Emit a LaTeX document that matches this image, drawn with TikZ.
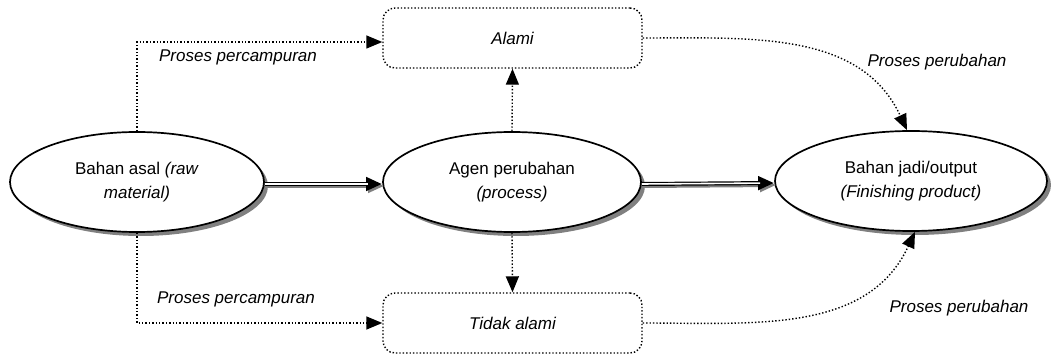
\documentclass[tikz,border=0pt]{standalone}
\usepackage{fontspec}
\setmainfont{Liberation Sans}
\usetikzlibrary{shapes.geometric, arrows.meta, positioning, shadows}
\definecolor{cShade}{RGB}{128,128,128}
\newcommand{\diagfont}{\fontsize{17}{24}\selectfont}
\tikzset{
    stage/.style={ellipse, draw=black, line width=1.7pt, fill=white, minimum width=254pt, minimum height=100pt, inner sep=0pt, align=center, drop shadow={shadow xshift=4pt, shadow yshift=-4pt, fill=cShade, opacity=1}},
    kind/.style={rectangle, rounded corners=12pt, draw=black, dotted, line width=1.4pt, minimum width=259pt, minimum height=60pt, font=\diagfont\itshape},
    dotarrow/.style={-{Triangle[length=16pt, width=13pt]}, dotted, line width=1.4pt},
    pipeshade/.style={-{Triangle[length=16pt, width=13pt]}, line width=4pt, cShade},
    pipe/.style={-{Triangle[length=16pt, width=13pt]}, line width=4pt, black},
    pipecore/.style={line width=1.6pt, white, shorten >=14pt},
    steplabel/.style={font=\diagfont\itshape},
}
\begin{document}
\begin{tikzpicture}[x=1pt, y=1pt, font=\diagfont]
    \useasboundingbox (0,0) rectangle (1051,356);
    % ellipses
    \node[stage] (asal) at (137,174) {Bahan asal \textit{(raw}\\\textit{material)}};
    \node[stage, minimum width=258pt] (agen) at (512,174) {Agen perubahan\\\textit{(process)}};
    \node[stage, minimum width=272pt] (jadi) at (911,175) {Bahan jadi/output\\\textit{(Finishing product)}};
    % boxes
    \node[kind] (alami) at (512.5,318) {Alami};
    \node[kind] (tidak) at (512.5,33) {Tidak alami};
    % double arrows
    \draw[pipeshade] ([shift={(2pt,-4pt)}]asal.east) -- ([shift={(2pt,-4pt)}]agen.west);
    \draw[pipe] ([yshift=-2pt]asal.east) -- ([yshift=-2pt]agen.west);
    \draw[pipecore] ([yshift=-2pt]asal.east) -- ([yshift=-2pt]agen.west);
    \draw[pipeshade] ([shift={(2pt,-4pt)}]agen.east) -- ([shift={(2pt,-4pt)}]jadi.west);
    \draw[pipe] ([yshift=-2pt]agen.east) -- ([yshift=-2pt]jadi.west);
    \draw[pipecore] ([yshift=-2pt]agen.east) -- ([yshift=-2pt]jadi.west);
    % dotted arrows
    \draw[dotarrow] (asal.north) |- ([yshift=-4pt]alami.west);
    \draw[dotarrow] (asal.south) |- (tidak.west);
    \draw[dotarrow] (agen.north) -- (alami.south);
    \draw[dotarrow] (agen.south) -- (tidak.north);
    \draw[dotarrow] (alami.east) to[out=0, in=115] ([xshift=-4pt]jadi.north);
    \draw[dotarrow] (tidak.east) to[out=0, in=-115] ([xshift=4pt]jadi.south);
    % labels
    \node[steplabel] (mix1) at (238,299) {Proses percampuran};
    \node[steplabel] (mix2) at (236,57) {Proses percampuran};
    \node[steplabel] (chg1) at (937,294) {Proses perubahan};
    \node[steplabel] (chg2) at (959,48) {Proses perubahan};
\end{tikzpicture}
\end{document}
